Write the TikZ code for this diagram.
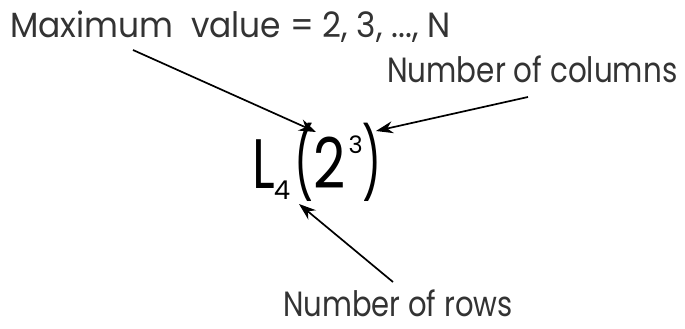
\documentclass[tikz,border=0pt]{standalone}
\usepackage{fontspec}
\usepackage{graphicx}
\setmainfont{Poppins}
\usetikzlibrary{arrows.meta}
\begin{document}
\begin{tikzpicture}[x=1pt,y=1pt,
  lbl/.style={inner sep=0pt,anchor=base west,text=black!80,font=\fontsize{35}{35}\selectfont},
  ptr/.style={line width=1.7pt,-{Stealth[length=17pt,width=12pt]}}]
\useasboundingbox (0,0) rectangle (685,329);
\node[lbl] (maxlbl) at (10,291) {\scalebox{0.94}[1]{Maximum\ \ value = 2, 3, ..., N}};
\node[lbl] (collbl) at (387,246) {\scalebox{0.84}[1]{Number of columns}};
\node[lbl] (rowlbl) at (283,12) {\scalebox{0.83}[1]{Number of rows}};
\node[inner sep=0pt,anchor=base west,font=\fontsize{70}{70}\selectfont] (expr) at (252,140)
  {\scalebox{0.75}[1]{L}\kern-1pt\raisebox{-11pt}{\fontsize{26}{26}\selectfont 4}\kern4pt\scalebox{0.6}[1]{(}\scalebox{0.8}[1]{2}\kern3pt\raisebox{35pt}{\fontsize{24}{24}\selectfont 3}\kern0pt\scalebox{0.6}[1]{)}};
\coordinate (a1s) at (133,279);
\coordinate (a1e) at (316,197);
\coordinate (a2s) at (528,232);
\coordinate (a2e) at (376,198);
\coordinate (a3s) at (393,47);
\coordinate (a3e) at (299,125);
\draw[ptr] (a1s) -- (a1e);
\draw[ptr] (a2s) -- (a2e);
\draw[ptr] (a3s) -- (a3e);
\end{tikzpicture}
\end{document}
